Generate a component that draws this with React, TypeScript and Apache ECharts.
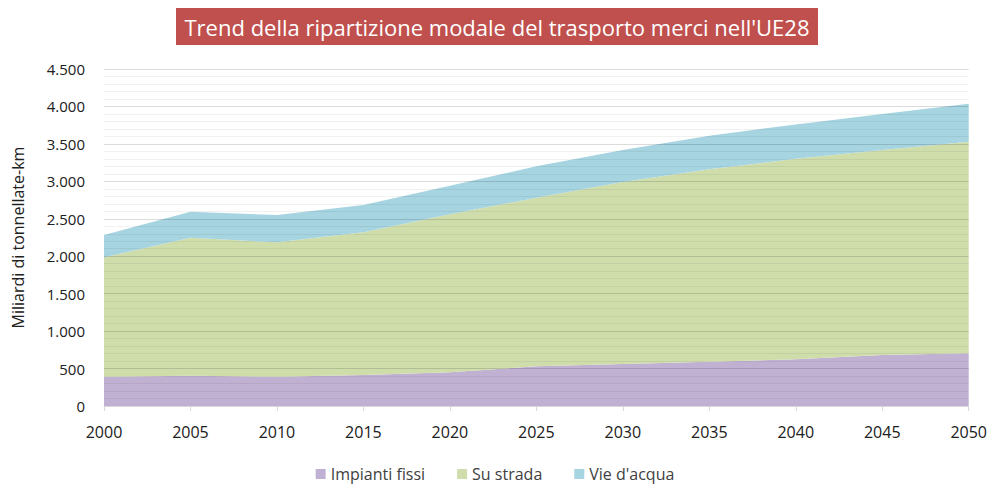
import React, { useEffect, useRef } from "react";
import * as echarts from "echarts";

const years = ["2000", "2005", "2010", "2015", "2020", "2025", "2030", "2035", "2040", "2045", "2050"];
const impiantiFissi = [390, 405, 390, 414, 450, 530, 560, 590, 625, 680, 705];
const suStrada = [1595, 1842, 1795, 1905, 2110, 2250, 2430, 2570, 2675, 2740, 2825];
const vieAcqua = [298, 347, 365, 364, 380, 420, 430, 450, 460, 480, 505];

const titleText = "Trend della ripartizione modale del trasporto merci nell'UE28";
const yAxisName = "Miliardi di tonnellate-km";

const fmt = (v: number) => v.toString().replace(/\B(?=(\d{3})+(?!\d))/g, ".");

export default function App() {
  const ref = useRef<HTMLDivElement>(null);
  useEffect(() => {
    if (!ref.current) return;
    const chart = echarts.init(ref.current, undefined, { renderer: "svg" });
    const font = "'Open Sans', 'Noto Sans', sans-serif";
    const mk = (name: string, data: number[], color: string) => ({
      name,
      type: "line",
      stack: "total",
      data,
      symbol: "none",
      lineStyle: { width: 0 },
      areaStyle: { color, opacity: 1 },
      itemStyle: { color },
      z: 1,
    });
    chart.setOption({
      animation: false,
      backgroundColor: "#ffffff",
      textStyle: { fontFamily: font },
      graphic: [
        {
          type: "rect",
          shape: { x: 176, y: 8, width: 642, height: 37 },
          style: { fill: "#c0504d" },
        },
        {
          type: "text",
          x: 497,
          y: 27,
          style: {
            text: titleText,
            fill: "#ffffff",
            font: "22px 'Open Sans', sans-serif",
            align: "center",
            verticalAlign: "middle",
          },
        },
      ],
      grid: { left: 104, right: 20, top: 69, bottom: 82 },
      legend: {
        bottom: 1,
        left: "center",
        icon: "rect",
        itemWidth: 10,
        itemHeight: 10,
        itemGap: 32,
        textStyle: { fontSize: 16, color: "#404040", fontFamily: font },
        data: ["Impianti fissi", "Su strada", "Vie d'acqua"],
      },
      xAxis: {
        type: "category",
        data: years,
        boundaryGap: false,
        axisLine: { lineStyle: { color: "#d9d9d9", width: 1 } },
        axisTick: { show: true, length: 5, lineStyle: { color: "#d9d9d9" } },
        axisLabel: { fontSize: 16, color: "#202020", margin: 18, fontFamily: font },
        splitLine: { show: false },
        z: 5,
      },
      yAxis: {
        type: "value",
        min: 0,
        max: 4500,
        interval: 500,
        name: yAxisName,
        nameLocation: "middle",
        nameGap: 78,
        nameRotate: 90,
        nameTextStyle: { fontSize: 16, color: "#202020", fontFamily: font },
        axisLine: { show: false },
        axisTick: { show: false },
        axisLabel: { fontSize: 15, color: "#202020", margin: 19, formatter: (v: number) => fmt(v), fontFamily: font },
        splitLine: { show: true, lineStyle: { color: "rgba(0,0,0,0.14)", width: 1 } },
        minorTick: { show: false, splitNumber: 5 },
        minorSplitLine: { show: true, lineStyle: { color: "rgba(0,0,0,0.055)", width: 1 } },
        z: 5,
      },
      series: [
        mk("Impianti fissi", impiantiFissi, "#c0b0d1"),
        mk("Su strada", suStrada, "#cfddab"),
        mk("Vie d'acqua", vieAcqua, "#a6d4e0"),
      ],
    });
    return () => chart.dispose();
  }, []);
  return <div ref={ref} style={{ width: 990, height: 488, position: "absolute", left: 0, top: 0 }} />;
}
